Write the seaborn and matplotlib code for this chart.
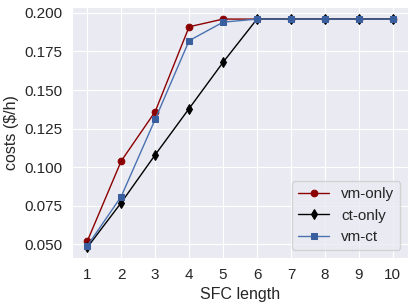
import numpy as np
import pandas as pd
import seaborn as sns
import matplotlib
matplotlib.use('Agg')
import matplotlib.pyplot as plt

sfc_length = [1, 2, 3, 4, 5, 6, 7, 8, 9, 10]
vm_only = [0.052, 0.104, 0.136, 0.191, 0.196, 0.196, 0.196, 0.196, 0.196, 0.196]
ct_only = [0.048, 0.077, 0.108, 0.138, 0.168, 0.196, 0.196, 0.196, 0.196, 0.196]
vm_ct = [0.049, 0.081, 0.131, 0.182, 0.194, 0.196, 0.196, 0.196, 0.196, 0.196]

series = ['vm-only', 'ct-only', 'vm-ct']
colors = ['darkred', 'black', '#4a72b0']
mfc = ['darkred', 'black', '#3a5f9f']
markers = ['o', 'd', 's']
msize = [4.8, 4.8, 4.8]

sns.set_style("darkgrid")
plt.rcParams['font.family'] = ['Liberation Sans', 'DejaVu Sans']

df = pd.DataFrame({'SFC length': sfc_length * 3,
                   'costs': vm_only + ct_only + vm_ct,
                   'method': [s for s in series for _ in sfc_length]})

fig, ax = plt.subplots(figsize=(4.16, 3.06), dpi=100)
for i, name in enumerate(series):
    sub = df[df['method'] == name]
    sns.lineplot(x='SFC length', y='costs', data=sub, ax=ax, color=colors[i],
                 marker=markers[i], markersize=msize[i], linewidth=1,
                 markerfacecolor=mfc[i], markeredgecolor=mfc[i], label=name)

ax.set_xticks(sfc_length)
ax.set_yticks([0.050, 0.075, 0.100, 0.125, 0.150, 0.175, 0.200])
ax.set_yticklabels(['0.050', '0.075', '0.100', '0.125', '0.150', '0.175', '0.200'])
ax.set_ylim(0.0412, 0.2038)
ax.set_xlim(0.55, 10.45)
ax.set_xlabel('SFC length', fontsize=11.5)
ax.set_ylabel('costs ($/h)', fontsize=11.5)
ax.tick_params(labelsize=11)
ax.legend(loc='lower right', fontsize=11)

plt.subplots_adjust(left=0.173, right=0.981, top=0.977, bottom=0.157)
plt.savefig('out.png', dpi=100)
plt.close()
